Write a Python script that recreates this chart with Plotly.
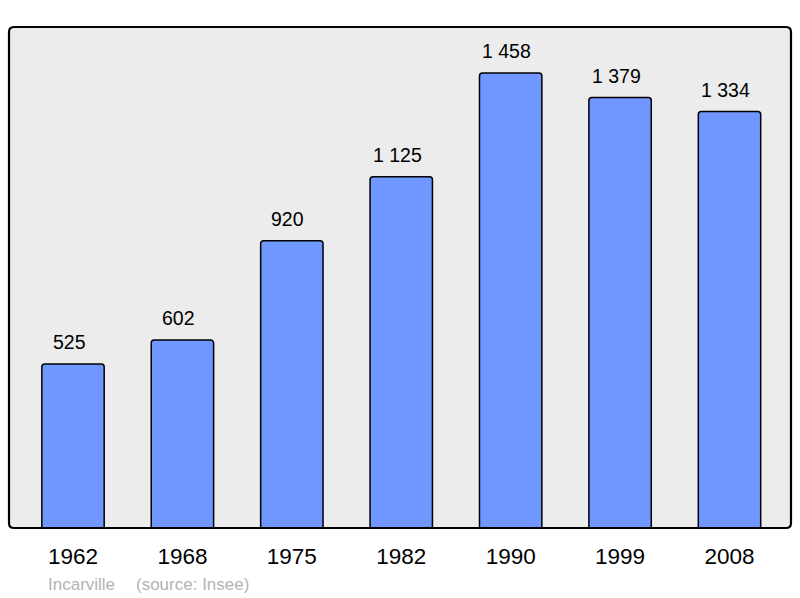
import plotly.graph_objects as go

years = ["1962", "1968", "1975", "1982", "1990", "1999", "2008"]
population = [525, 602, 920, 1125, 1458, 1379, 1334]
value_labels = ["525", "602", "920", "1 125", "1 458", "1 379", "1 334"]
place = "Incarville"
source = "(source: Insee)"

FONT = "Liberation Sans, Arial, sans-serif"
xs = list(range(len(years)))

fig = go.Figure()
fig.add_trace(go.Bar(
    x=xs, y=population, width=0.57,
    marker=dict(color="#7096ff", line=dict(color="#000000", width=1.5), cornerradius=3),
    hoverinfo="skip",
))

annotations = []
for x, v, t in zip(xs, population, value_labels):
    annotations.append(dict(x=x, y=v, xref="x", yref="y", text=t, showarrow=False,
                            yanchor="bottom", yshift=9, xshift=-4,
                            font=dict(family=FONT, size=19.5, color="#000000")))
annotations.append(dict(x=(46 - 9) / 782, y=(528 - 584) / 501, xref="paper", yref="paper",
                        text=place, showarrow=False, xanchor="left", yanchor="middle",
                        font=dict(family=FONT, size=17, color="#b3b3b3")))
annotations.append(dict(x=(134 - 9) / 782, y=(528 - 584) / 501, xref="paper", yref="paper",
                        text=source, showarrow=False, xanchor="left", yanchor="middle",
                        font=dict(family=FONT, size=17, color="#b3b3b3")))

# rounded border of plot area
rx, ry = 5 / 782, 5 / 501
path = (f"M {rx},0 L {1-rx},0 Q 1,0 1,{ry} L 1,{1-ry} Q 1,1 {1-rx},1 "
        f"L {rx},1 Q 0,1 0,{1-ry} L 0,{ry} Q 0,0 {rx},0 Z")

fig.update_layout(
    width=800, height=598,
    margin=dict(l=9, r=9, t=27, b=70),
    paper_bgcolor="#ffffff", plot_bgcolor="#ececec",
    showlegend=False,
    xaxis=dict(range=[-0.585, 6.562], tickvals=xs, ticktext=years,
               showgrid=False, zeroline=False, showline=False,
               ticks="outside", ticklen=0, ticklabelstandoff=8,
               tickfont=dict(family=FONT, size=22.5, color="#000000"), fixedrange=True),
    yaxis=dict(range=[0, 1605], showgrid=False, zeroline=False, showline=False,
               showticklabels=False, fixedrange=True),
    annotations=annotations,
    shapes=[dict(type="path", xref="paper", yref="paper", path=path,
                 line=dict(color="#000000", width=2.2), layer="above")],
)

fig.write_html("out.html", config={"displayModeBar": False, "staticPlot": True},
               post_script="document.body.style.margin='0';document.body.style.overflow='hidden';")
